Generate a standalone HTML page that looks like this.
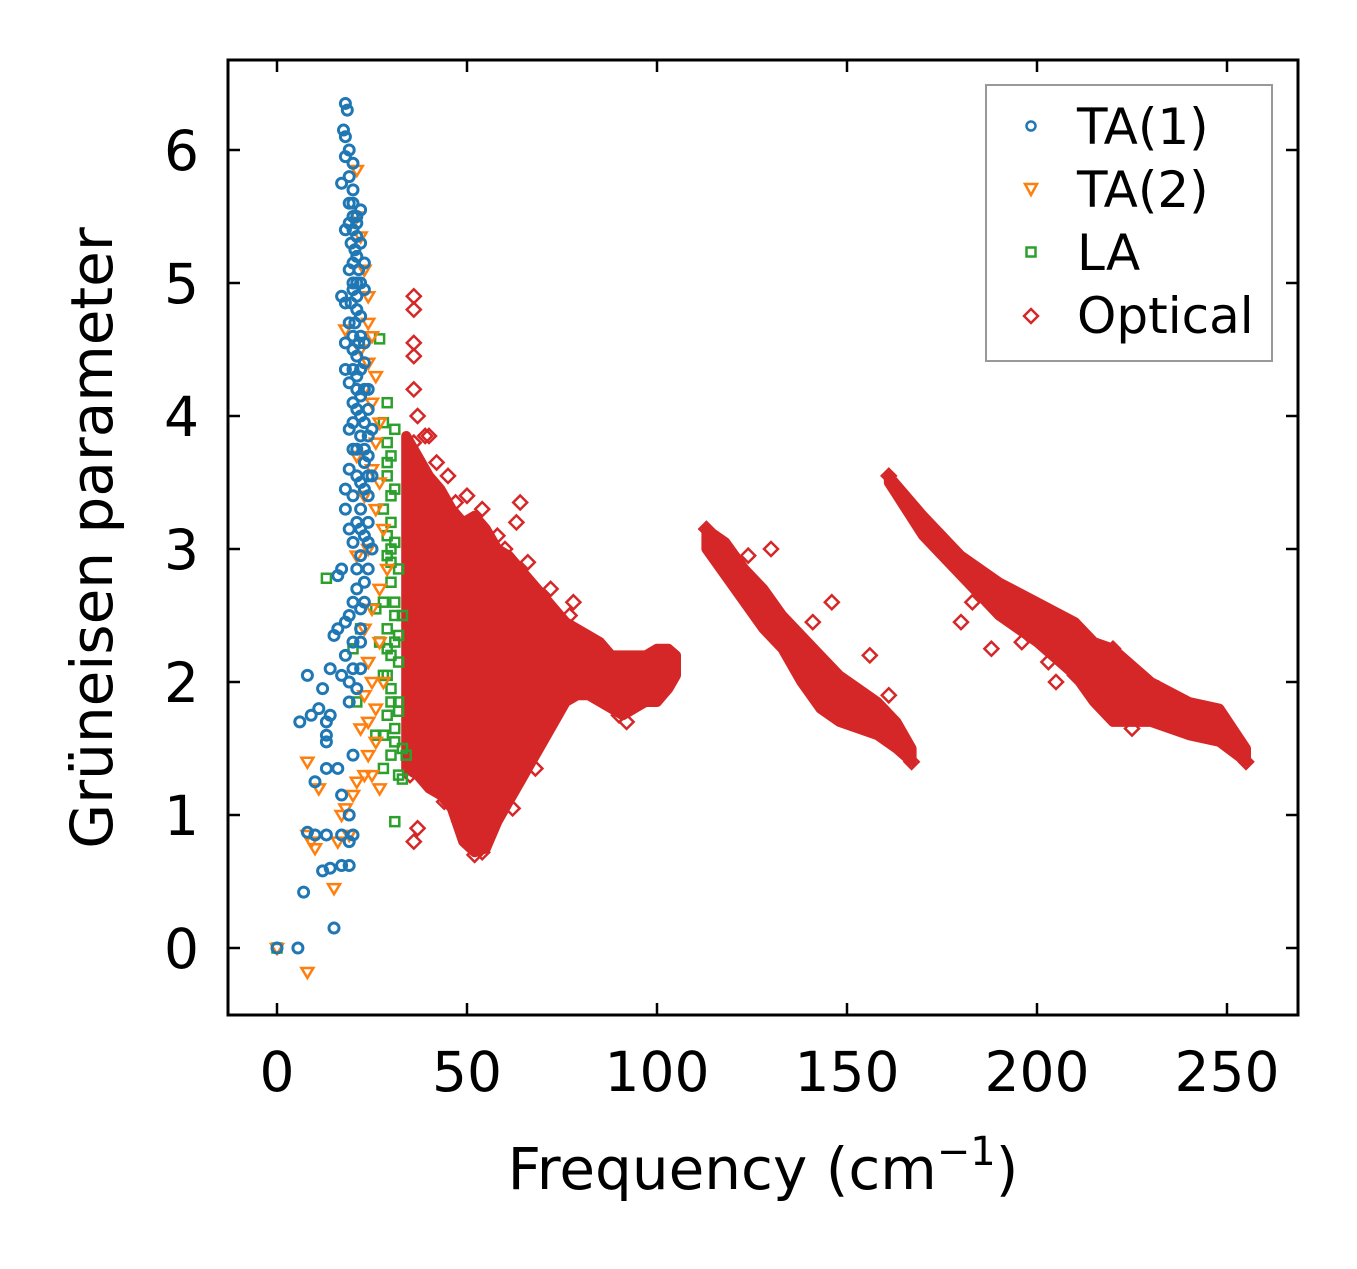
<!DOCTYPE html>
<html><head><meta charset="utf-8"><style>
html,body{margin:0;padding:0;background:#fff}
svg text{font-family:"DejaVu Sans","Liberation Sans",sans-serif;fill:#000}
</style></head><body>
<svg id="chart" width="1357" height="1264" xmlns="http://www.w3.org/2000/svg">
<rect width="1357" height="1264" fill="#fff"/>
<g id="bands"></g><g id="marks"></g><g id="axes"></g>
<g id="legend">
<rect x="986" y="85" width="286" height="276" fill="#fff" stroke="#999" stroke-width="2"/>
<circle cx="1031" cy="126" r="4.5" fill="none" stroke="#1f77b4" stroke-width="2.5"/>
<text x="1077" y="144" font-size="50">TA(1)</text>
<path d="M1025,184 L1037,184 L1031,195 Z" fill="none" stroke="#ff7f0e" stroke-width="2.5"/>
<text x="1077" y="207" font-size="50">TA(2)</text>
<rect x="1026.5" y="247.5" width="9" height="9" fill="none" stroke="#2ca02c" stroke-width="2.5"/>
<text x="1077" y="270" font-size="50">LA</text>
<path d="M1031,309 L1038,316 L1031,323 L1024,316 Z" fill="none" stroke="#d62728" stroke-width="2.5"/>
<text x="1077" y="333" font-size="50">Optical</text>
</g>
</svg>
<script>
const xTicks=[0,50,100,150,200,250];
const yTicks=[0,1,2,3,4,5,6];
const ta1=[[18,6.35],[18.5,6.3],[17.5,6.15],[18,6.1],[19,6.0],[20,5.9],[17,5.75],[19,5.8],[20,5.7],[21,5.5],[20,5.4],[18,5.4],[22,5.3],[21,5.2],[19,5.1],[22,5.0],[20,4.95],[18,4.85],[21,4.8],[19,4.7],[22,4.6],[20,4.5],[23,4.4],[18,4.35],[21,4.3],[24,4.2],[20,4.1],[22,4.0],[19,3.9],[24,3.85],[21,3.75],[23,3.65],[19,3.6],[22,3.5],[18,3.45],[24,3.4],[18,3.3],[21,3.2],[23,3.1],[20,3.05],[22,2.95],[24,2.85],[17,2.85],[16,2.8],[21,2.7],[23,2.6],[19,2.5],[16,2.4],[15,2.35],[22,2.3],[18,2.2],[20,2.1],[17,2.05],[14,2.1],[21,1.95],[19,1.85],[12,1.95],[11,1.8],[13,1.7],[6,1.7],[9,1.75],[14,1.75],[13,1.6],[13,1.55],[20,1.45],[16,1.35],[13,1.35],[10,1.25],[17,1.15],[19,1.0],[20,0.85],[19,0.8],[17,0.85],[13,0.85],[10,0.85],[8,0.87],[19,0.62],[17,0.62],[14,0.6],[12,0.58],[7,0.42],[15,0.15],[5.5,0.0],[0,0],[8,2.05],[23,5.15],[23,4.95],[20,5.5],[21,5.45],[22,5.55],[20,5.0],[21,4.9],[22,4.75],[23,4.55],[21,4.45],[22,4.15],[23,3.95],[24,3.7],[25,3.55],[24,3.2],[25,3.0],[22,3.3],[23,3.75],[21,4.05],[20,4.6],[19,4.25],[22,2.55],[20,2.3],[18,2.45],[19.5,5.3],[20.5,5.25],[21.5,5.1],[20,5.15],[21,5.0],[19.5,4.85],[20.5,4.7],[21.5,4.55],[20,4.35],[22,4.35],[21,4.2],[23,4.2],[20,3.95],[22,3.85],[21,3.55],[23,3.45],[20,3.4],[22,3.15],[24,3.05],[21,2.85],[23,2.75],[20,2.6],[22,2.1],[19,2.0],[18,5.95],[19,5.6],[20,5.6],[21,5.35],[19,5.45],[18,4.55],[17,4.9],[20,3.75],[19,3.15],[24,3.55],[25,3.9],[24,4.05],[22,2.4]];
const ta2=[[21,5.85],[21,5.5],[22,5.35],[23,5.1],[24,4.9],[24,4.7],[25,4.6],[18,4.65],[24,4.4],[26,4.3],[25,4.1],[27,3.95],[26,3.8],[25,3.6],[27,3.5],[26,3.3],[28,3.15],[24,3.0],[21,2.95],[29,2.85],[27,2.7],[25,2.55],[23,2.4],[27,2.3],[24,2.15],[25,2.0],[23,1.9],[26,1.8],[24,1.7],[22,1.65],[26,1.55],[24,1.45],[23,1.3],[25,1.3],[21,1.25],[20,1.15],[18,1.05],[17,1.0],[19,0.85],[16,0.8],[8,1.4],[11,1.2],[8,0.85],[9,0.8],[10,0.75],[15,0.45],[8,-0.18],[0,0],[22,4.5],[23,4.2],[21,3.7],[23,3.4],[28,2.0],[27,1.2]];
const la=[[27,4.58],[29,4.1],[28,3.95],[29,3.8],[30,3.7],[29,3.55],[31,3.45],[28,3.3],[30,3.2],[31,3.05],[29,2.95],[32,2.85],[30,2.75],[28,2.6],[31,2.5],[33,2.5],[29,2.4],[27,2.3],[30,2.2],[32,2.15],[28,2.05],[30,1.95],[32,1.85],[29,1.75],[31,1.65],[28,1.6],[33,1.5],[30,1.45],[28,1.35],[32,1.3],[33,1.27],[13,2.78],[20,2.25],[21,1.85],[22,2.4],[31,0.95],[0,0],[34,1.45],[32,1.78],[26,1.6],[26,2.55],[30,3.0],[31,2.6],[29,2.25],[32,2.35],[30,3.4],[31,3.9],[29,3.1],[30,2.9],[31,2.3],[29,2.05],[30,1.85],[31,1.55],[29,3.65]];
const optical=[[36,4.9],[36,4.8],[36,4.55],[36,4.45],[36,4.2],[37,4.0],[36,3.8],[39,3.85],[40,3.85],[42,3.65],[45,3.55],[50,3.4],[54,3.3],[64,3.35],[63,3.2],[78,2.6],[77,2.5],[92,1.7],[90,1.75],[35,1.3],[37,0.9],[36,0.8],[42,1.25],[58,3.1],[130,3.0],[146,2.6],[141,2.45],[156,2.2],[161,1.9],[180,2.45],[183,2.6],[188,2.25],[196,2.3],[203,2.15],[205,2.0],[225,1.65],[245,1.65],[52,0.7],[54,0.72],[113,3.15],[161,3.55],[167,1.4],[255,1.4],[47,3.35],[60,3.0],[66,2.9],[72,2.7],[44,1.1],[48,0.95],[62,1.05],[68,1.35],[124,2.95],[135,2.4],[150,1.75],[159,1.7],[198,2.6],[210,2.05],[220,2.25],[232,1.95]];
const band1X=[34,37,40,43,46,49,52,55,58,61,64,67,70,73,76,79,82,85,88,91,94,97,100,103,105];
const band1Lo=[1.35,1.3,1.2,1.15,1.05,0.8,0.72,0.75,0.95,1.1,1.25,1.4,1.55,1.7,1.85,1.9,1.9,1.85,1.8,1.75,1.8,1.85,1.85,1.95,2.05];
const band1Hi=[3.85,3.7,3.55,3.45,3.3,3.2,3.25,3.15,3.0,2.95,2.85,2.75,2.65,2.55,2.45,2.4,2.35,2.3,2.2,2.2,2.2,2.2,2.25,2.25,2.2];
const band2X=[113,118,123,128,133,138,143,148,153,158,163,167];
const band2Lo=[3.0,2.8,2.6,2.4,2.25,2.0,1.8,1.7,1.65,1.6,1.5,1.4];
const band2Hi=[3.15,3.05,2.85,2.7,2.5,2.35,2.2,2.05,1.95,1.85,1.7,1.5];
const band3X=[161,170,180,190,200,210,215,220,230,240,248,255];
const band3Lo=[3.5,3.1,2.8,2.5,2.3,2.05,1.85,1.7,1.7,1.6,1.55,1.4];
const band3Hi=[3.55,3.25,2.95,2.75,2.6,2.45,2.3,2.25,2.0,1.85,1.8,1.5];

const L=228,R=1298,T=60,B=1015;
function sx(v){return 277+v*3.8;}
function sy(v){return 948-v*133;}
const NS='http://www.w3.org/2000/svg';
function mk(tag,attrs,parent){const e=document.createElementNS(NS,tag);for(const k in attrs)e.setAttribute(k,attrs[k]);parent.appendChild(e);return e;}
const bands=document.getElementById('bands'),marks=document.getElementById('marks'),axes=document.getElementById('axes');

function band(xs,lo,hi,name){
  let pts=xs.map((x,i)=>sx(x)+','+sy(hi[i]));
  for(let i=xs.length-1;i>=0;i--)pts.push(sx(xs[i])+','+sy(lo[i]));
  const p=mk('polygon',{points:pts.join(' '),fill:'#d62728',stroke:'#d62728','stroke-width':10,'stroke-linejoin':'round'},bands);
  
  
}
band(band1X,band1Lo,band1Hi,'optical-cluster-1');
band(band2X,band2Lo,band2Hi,'optical-cluster-2');
band(band3X,band3Lo,band3Hi,'optical-cluster-3');

optical.forEach(d=>{const x=sx(d[0]),y=sy(d[1]);
  const e=mk('path',{d:`M${x},${y-7}L${x+7},${y}L${x},${y+7}L${x-7},${y}Z`,fill:'none',stroke:'#d62728','stroke-width':2.5},marks);
  
  });
la.forEach(d=>{const x=sx(d[0]),y=sy(d[1]);
  const e=mk('rect',{x:x-4.5,y:y-4.5,width:9,height:9,fill:'none',stroke:'#2ca02c','stroke-width':2.5},marks);
  
  });
ta2.forEach(d=>{const x=sx(d[0]),y=sy(d[1]);
  const e=mk('path',{d:`M${x-6},${y-4}L${x+6},${y-4}L${x},${y+6}Z`,fill:'none',stroke:'#ff7f0e','stroke-width':2.5},marks);
  
  });
ta1.forEach(d=>{
  const e=mk('circle',{cx:sx(d[0]),cy:sy(d[1]),r:5,fill:'none',stroke:'#1f77b4','stroke-width':3},marks);
  
  });

const frame=mk('rect',{x:L,y:T,width:R-L,height:B-T,fill:'none',stroke:'#000','stroke-width':3},axes);


xTicks.forEach(v=>{const x=sx(v);
  mk('line',{x1:x,x2:x,y1:B,y2:B-12,stroke:'#000','stroke-width':2.5},axes);
  mk('line',{x1:x,x2:x,y1:T,y2:T+12,stroke:'#000','stroke-width':2.5},axes);
  const t=mk('text',{x:x,y:1091,'font-size':55,'text-anchor':'middle'},axes);t.textContent=v;
  
  });
yTicks.forEach(v=>{const y=sy(v);
  mk('line',{x1:L,x2:L+12,y1:y,y2:y,stroke:'#000','stroke-width':2.5},axes);
  mk('line',{x1:R,x2:R-12,y1:y,y2:y,stroke:'#000','stroke-width':2.5},axes);
  const t=mk('text',{x:199,y:y+20,'font-size':55,'text-anchor':'end'},axes);t.textContent=v;
  
  });
const xl=mk('text',{x:763,y:1189,'font-size':58,'text-anchor':'middle'},axes);
xl.innerHTML='Frequency (cm<tspan dy="-24" font-size="40">−1</tspan><tspan dy="24">)</tspan>';


const yl=mk('text',{x:0,y:0,'font-size':58,'text-anchor':'middle',transform:'translate(112,538) rotate(-90)'},axes);
yl.textContent='Grüneisen parameter';


</script>
</body></html>
